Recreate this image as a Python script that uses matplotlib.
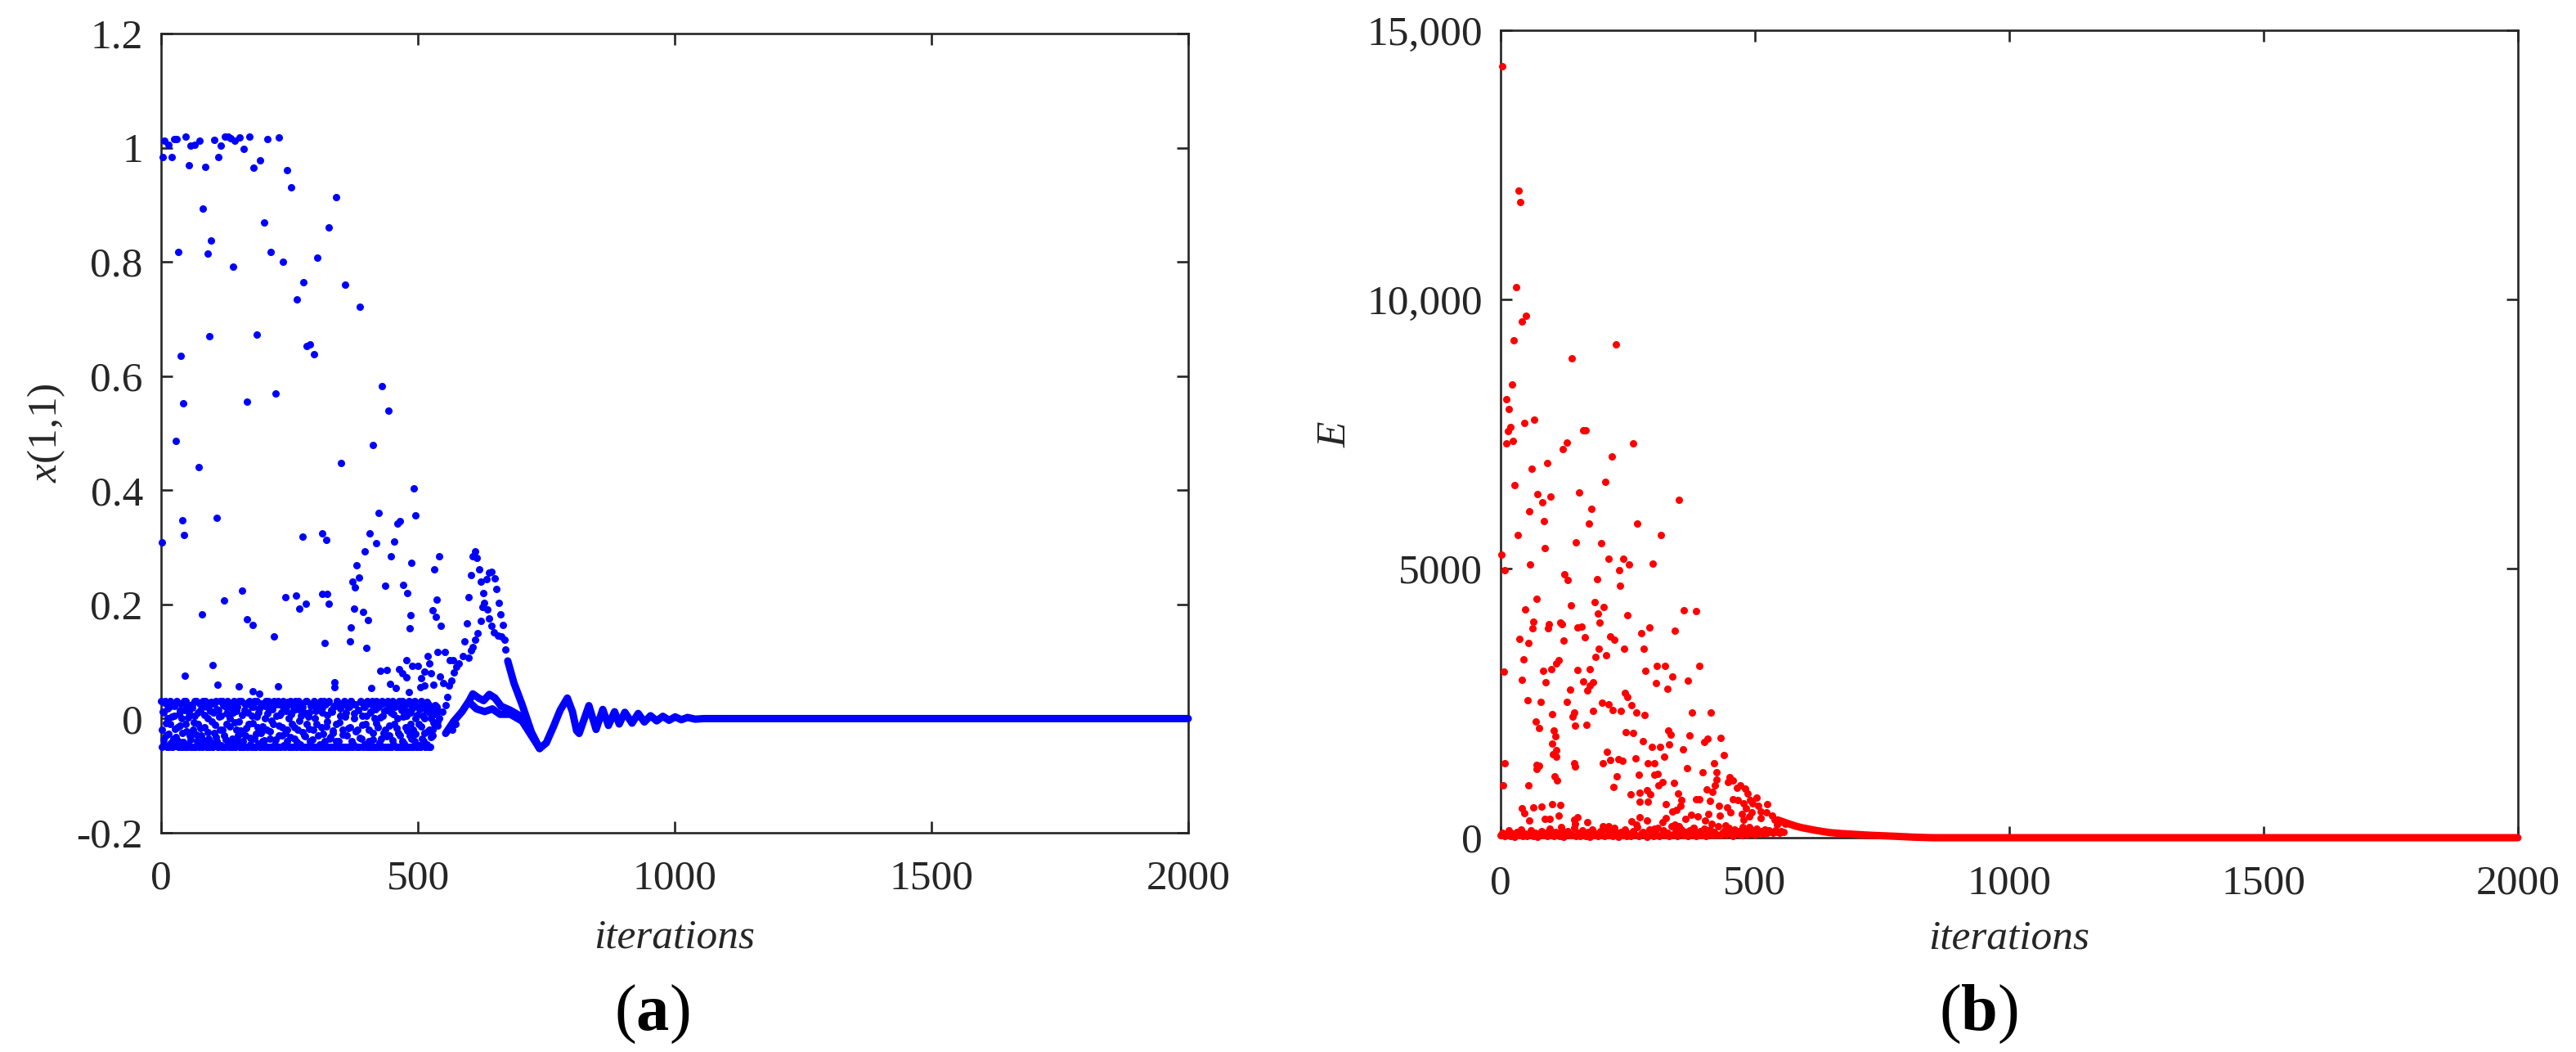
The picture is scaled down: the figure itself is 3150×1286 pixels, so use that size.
import numpy as np
import matplotlib
matplotlib.use("Agg")
import matplotlib.pyplot as plt

plt.rcParams['font.family'] = ['Liberation Serif', 'DejaVu Serif']
plt.rcParams['mathtext.fontset'] = 'custom'
plt.rcParams['mathtext.rm'] = 'Liberation Serif'
plt.rcParams['mathtext.it'] = 'Liberation Serif:italic'
plt.rcParams['mathtext.bf'] = 'Liberation Serif:bold'

# ---------------- panel (a): x(1,1) ----------------
a_out_x = [7, 15, 3, 21, 26, 31, 48, 54, 58, 66, 75, 82, 86, 97, 104, 111, 117, 124, 130, 136,
           144, 153, 161, 172, 180, 193, 201, 207, 213, 229, 237, 245, 253, 265, 277, 283, 290,
           298, 304, 327, 340, 358, 387, 412, 430, 442, 34, 91, 140, 94, 186, 39, 43, 167, 223, 29]
a_out_y = [1.013, 1.005, 0.984, 0.983, 1.015, 1.015, 1.019, 0.970, 1.003, 1.005, 1.013, 0.894,
           0.967, 0.837, 1.014, 0.983, 1.003, 1.020, 1.020, 1.017, 1.013, 1.018, 0.998, 1.020,
           0.965, 0.978, 0.869, 1.015, 0.817, 1.018, 0.800, 0.961, 0.931, 0.735, 0.764, 0.653,
           0.655, 0.638, 0.808, 0.861, 0.913, 0.760, 0.721, 0.479, 0.583, 0.540, 0.817, 0.814,
           0.792, 0.670, 0.672, 0.636, 0.553, 0.555, 0.570, 0.487]

a_mid_x = [73, 350, 492, 423, 496, 41, 108, 45, 2, 276, 314, 321, 406, 418, 460, 465, 454, 396,
           447, 541, 488, 381, 532, 385, 373, 377, 436, 472, 480, 158, 122, 242, 262, 269, 282,
           313, 323, 326, 376, 393, 403, 537, 528, 535, 545, 486, 484, 79, 167, 178, 220, 369,
           368, 319, 399, 101, 46, 110, 151, 227, 178, 191, 337, 337, 410, 446, 427, 440, 463,
           470, 478, 477, 489, 500, 519, 523, 513, 526, 506, 543, 539, 553, 562, 569, 483, 457,
           513, 530, 505]
a_mid_y = [0.441, 0.447, 0.403, 0.360, 0.356, 0.348, 0.352, 0.322, 0.309, 0.319, 0.324, 0.313,
           0.324, 0.307, 0.342, 0.346, 0.310, 0.293, 0.284, 0.284, 0.273, 0.268, 0.261, 0.247,
           0.240, 0.230, 0.233, 0.234, 0.220, 0.224, 0.207, 0.212, 0.215, 0.192, 0.201, 0.218,
           0.218, 0.201, 0.193, 0.187, 0.173, 0.208, 0.190, 0.179, 0.162, 0.181, 0.158, 0.183,
           0.174, 0.164, 0.144, 0.160, 0.136, 0.133, 0.124, 0.094, 0.075, 0.060, 0.057, 0.056,
           0.048, 0.044, 0.063, 0.055, 0.053, 0.061, 0.084, 0.085, 0.087, 0.079, 0.072, 0.102,
           0.092, 0.092, 0.110, 0.097, 0.082, 0.080, 0.071, 0.074, 0.116, 0.116, 0.103, 0.102,
           0.047, 0.053, 0.058, 0.059, 0.055]

a_peak_x = [588, 599, 595, 591, 603, 606, 612, 615, 620, 623, 627, 629, 625, 635, 622, 617, 612,
            607, 604, 599, 639, 633, 639, 644, 650, 653, 657, 661, 666, 643, 648, 656, 663, 668,
            671, 538, 541, 548, 554, 557, 560, 565, 570, 575, 580, 549, 567, 573]
a_peak_y = [0.110, 0.212, 0.167, 0.136, 0.252, 0.284, 0.293, 0.281, 0.261, 0.240, 0.220, 0.203,
            0.196, 0.191, 0.171, 0.149, 0.138, 0.126, 0.119, 0.106, 0.176, 0.244, 0.256, 0.257,
            0.246, 0.227, 0.203, 0.182, 0.164, 0.162, 0.151, 0.146, 0.144, 0.138, 0.121, -0.012,
            0.000, 0.012, 0.024, 0.038, 0.058, 0.067, 0.081, 0.091, 0.096, 0.062, -0.019, -0.009]

# dense band between -0.05 and 0.03: even iterations 0..538
a_band_even_y = [
    0.03, -0.02, 0.01, -0.045, 0.03, -0.03, 0.0, -0.05, 0.02, -0.01,
    -0.05, 0.025, -0.035, 0.005, -0.048, 0.03, -0.015, -0.04, 0.015, -0.05,
    0.0, -0.025, 0.03, -0.05, -0.01, 0.02, -0.045, 0.01, -0.03, -0.05,
    0.025, -0.02, -0.05, 0.005, 0.03, -0.04, -0.01, -0.05, 0.015, -0.03,
    -0.05, 0.02, -0.015, 0.03, -0.045, 0.0, -0.035, -0.05, 0.025, -0.005,
    -0.05, 0.01, -0.025, 0.03, -0.04, -0.05, 0.015, -0.02, 0.005, -0.05,
    0.03, -0.03, -0.05, 0.02, -0.01, -0.045, 0.025, 0.0, -0.05, -0.035,
    0.01, 0.03, -0.05, -0.02, 0.02, -0.04, -0.005, -0.05, 0.03, -0.025,
    -0.05, 0.015, -0.03, 0.025, -0.05, -0.01, 0.03, -0.045, 0.005, -0.05,
    0.02, -0.035, -0.05, 0.03, -0.015, 0.01, -0.05, -0.025, 0.025, -0.04,
    -0.05, 0.0, 0.03, -0.02, -0.05, 0.015, -0.035, 0.02, -0.05, -0.01,
    0.03, -0.045, 0.005, -0.05, 0.025, -0.03, -0.05, 0.01, -0.015, 0.03,
    -0.05, -0.025, 0.02, -0.04, 0.0, -0.05, 0.03, -0.01, -0.05, 0.015,
    -0.035, 0.025, -0.05, -0.02, 0.03, -0.045, 0.005, -0.05, 0.02, -0.03,
    -0.05, 0.03, -0.01, -0.05, 0.01, -0.04, 0.025, -0.05, -0.02, 0.03,
    0.0, -0.05, 0.02, -0.03, -0.05, 0.03, -0.015, 0.01, -0.05, -0.04,
    0.025, -0.05, -0.005, 0.03, -0.035, -0.05, 0.015, -0.025, 0.02, -0.05,
    -0.01, 0.03, -0.05, -0.04, 0.005, 0.025, -0.05, -0.02, 0.03, -0.05,
    0.01, -0.03, -0.05, 0.02, -0.015, 0.03, -0.05, -0.045, 0.0, 0.025,
    -0.05, -0.02, 0.015, -0.05, 0.03, -0.035, 0.005, -0.05, 0.02, -0.01,
    -0.05, 0.03, -0.04, -0.05, 0.01, 0.025, -0.025, -0.05, 0.0, 0.03,
    -0.05, -0.015, 0.02, -0.05, -0.035, 0.03, 0.005, -0.05, -0.02, 0.015,
    -0.05, 0.025, -0.03, -0.05, 0.01, 0.03, -0.045, -0.01, 0.02, -0.05,
    0.0, -0.025, 0.03, -0.05, 0.015, -0.04, -0.05, 0.025, -0.015, 0.005,
    -0.05, 0.03, -0.03, 0.01, -0.05, -0.02, 0.025, -0.04, 0.0, -0.05,
    0.02, -0.01, -0.05, 0.03, -0.035, 0.005, -0.025, -0.05, 0.015, -0.045,
    0.025, -0.02, -0.05, 0.0, -0.03, 0.02, -0.01, 0.015, 0.01, -0.005]
# odd iterations 1..539
a_band_odd_y = [
    -0.049, 0.012, -0.037, 0.028, -0.008, -0.05, 0.018, -0.027, 0.031, -0.043,
    0.004, -0.05, 0.022, -0.018, -0.033, 0.029, -0.05, 0.008, -0.012, 0.026,
    -0.05, -0.041, 0.015, 0.031, -0.022, -0.05, 0.002, 0.024, -0.037, -0.05,
    0.019, -0.007, 0.03, -0.05, -0.028, 0.011, -0.046, 0.027, -0.016, -0.05,
    0.031, -0.038, 0.006, -0.05, 0.021, -0.024, -0.05, 0.013, 0.029, -0.042,
    -0.05, 0.027, -0.011, -0.032, 0.017, -0.05, 0.003, 0.03, -0.047, -0.019,
    0.023, -0.05, -0.036, 0.009, 0.031, -0.05, -0.014, 0.019, -0.043, -0.05,
    0.028, -0.006, -0.05, 0.014, -0.029, 0.031, -0.05, -0.021, 0.007, -0.039,
    -0.05, 0.026, -0.017, -0.05, 0.011, 0.029, -0.034, -0.05, 0.021, -0.008,
    0.031, -0.05, -0.027, 0.003, -0.044, 0.018, -0.05, 0.027, -0.013, -0.05,
    -0.038, 0.022, -0.05, 0.009, 0.03, -0.023, -0.05, -0.004, 0.016, -0.05,
    0.025, -0.036, -0.05, 0.031, -0.012, 0.006, -0.05, -0.029, 0.02, -0.046,
    -0.05, 0.013, -0.019, 0.029, -0.05, -0.033, 0.008, -0.05, 0.024, -0.015,
    0.03, -0.05, -0.041, 0.017, -0.003, -0.05, 0.027, -0.024, -0.05, 0.011,
    -0.031, 0.031, -0.05, 0.004, -0.018, 0.022, -0.05, -0.037, 0.028, -0.05,
    0.014, -0.009, -0.05, 0.026, -0.045, -0.05, 0.019, -0.026, 0.031, -0.05,
    -0.014, 0.007, -0.05, 0.029, -0.032, -0.05, 0.012, -0.021, -0.05, 0.024,
    -0.04, 0.03, -0.05, -0.007, 0.018, -0.05, -0.028, 0.027, -0.05, 0.003,
    -0.05, 0.021, -0.016, -0.05, 0.031, -0.039, -0.05, 0.009, 0.025, -0.023,
    -0.05, 0.015, -0.05, -0.034, 0.029, -0.011, -0.05, 0.02, -0.045, 0.005,
    0.028, -0.05, -0.02, 0.012, -0.05, 0.031, -0.036, -0.05, 0.017, -0.008,
    -0.05, 0.024, -0.042, 0.002, -0.05, 0.027, -0.025, 0.013, -0.05, -0.031,
    0.03, -0.05, -0.012, 0.019, -0.05, -0.038, 0.008, 0.026, -0.05, -0.017,
    -0.05, 0.022, -0.03, -0.05, 0.03, 0.004, -0.044, -0.05, 0.014, -0.021,
    0.027, -0.05, -0.009, -0.035, 0.018, -0.05, 0.031, -0.026, -0.05, 0.007,
    -0.047, 0.016, -0.05, -0.013, 0.025, -0.039, 0.001, -0.05, 0.029, -0.022,
    -0.05, 0.011, -0.033, 0.019, -0.02, -0.006, 0.024, 0.008, 0.02, 0.015]
a_band_even_x = np.arange(0, 2 * len(a_band_even_y), 2)
a_band_odd_x = np.arange(1, 2 * len(a_band_odd_y), 2)

# converging trajectories (dense runs of points drawn as continuous strokes)
a_lineA_x = [675, 687, 703, 721, 737, 750, 764, 777, 791, 801, 809, 814, 833, 847, 860, 871, 883,
             892, 903, 917, 929, 941, 953, 965, 977, 989, 1001, 1013, 1025, 1040, 1057, 2000]
a_lineA_y = [0.101, 0.0624, 0.0242, -0.0236, -0.0523, -0.0427, -0.014, 0.0146, 0.036, 0.012,
             -0.021, -0.026, 0.0227, -0.019, 0.016, -0.012, 0.012, -0.0095, 0.011, -0.008, 0.009,
             -0.006, 0.005, -0.004, 0.004, -0.003, 0.003, -0.002, 0.002, -0.001, 0.0, 0.0]
a_lineB_x = [554, 570, 586, 600, 607, 618, 628, 639, 650, 662, 680, 703, 720, 737]
a_lineB_y = [-0.026, -0.0045, 0.0123, 0.0314, 0.0433, 0.0362, 0.0314, 0.0424, 0.0362, 0.0218,
             0.0146, 0.0027, -0.0236, -0.0523]
a_lineC_x = [600, 614, 630, 645, 660, 680, 703, 737]
a_lineC_y = [0.029, 0.017, 0.0123, 0.017, 0.0075, 0.0075, -0.0045, -0.0523]

# ---------------- panel (b): E ----------------
b_pts = [
    (3.8, 14336), (35, 12017), (38.6, 11804), (31, 10223), (50, 9696), (42, 9585), (26, 9240),
    (227, 9159), (140, 8901), (22.5, 8419), (10.7, 8141), (16.6, 7963), (66, 7761), (46.6, 7710),
    (18.8, 7634), (15, 7558), (163, 7568), (167, 7568), (24, 7366), (12, 7330), (131, 7340),
    (261, 7330), (122, 7219), (219, 7077), (92, 6960), (61, 6859), (28, 6555), (205, 6606),
    (73, 6378), (98, 6342), (81.5, 6236), (155, 6413), (351, 6277), (179, 6114), (56, 6059),
    (86, 5877), (173, 5831), (269, 5831), (33, 5623), (315, 5618), (148, 5491), (197, 5471),
    (87, 5375), (1.6, 5253), (8.6, 4965), (58, 5076), (213, 5177), (241, 5187), (253, 5076),
    (299, 5086), (233, 4970), (235, 4686), (126, 4894), (132, 4782), (189, 4802), (71, 4433),
    (49, 4240), (138, 4321), (185, 4382), (203, 4291), (191, 4164), (249, 4139), (360, 4220),
    (384, 4205), (195, 4002), (65, 4012), (63, 3886), (95, 3962), (94, 3896), (118, 3997),
    (120, 3970), (151, 3910), (159, 3926), (293, 3906), (342, 3845), (277, 3794), (37, 3698),
    (55, 3622), (124, 3658), (165, 3723), (216, 3734), (224, 3673), (243, 3511), (193, 3515),
    (281, 3515), (45, 3313), (187, 3354), (207, 3384), (110, 3242), (114, 3293), (7, 3085),
    (84, 3096), (100, 3135), (151, 3120), (175, 3126), (307, 3187), (323, 3187), (391, 3187),
    (285, 3100), (41, 2938), (89, 2883), (162, 2907), (175, 2831), (182, 2892), (171, 2736),
    (306, 2868), (337, 2994), (328, 2761), (368, 2913), (136, 2746), (244, 2695), (250, 2614),
    (257, 2467), (53, 2553), (79, 2518), (130, 2528), (199, 2508), (212, 2477), (221, 2375),
    (237, 2350), (181, 2360), (267, 2325), (283, 2275), (377, 2325), (414, 2325), (101, 2290),
    (144, 2330), (142, 2254), (69, 2163), (76, 2032), (146, 2082), (169, 2097), (105, 1986),
    (107, 1884), (246, 1960), (260, 1940), (330, 1996), (334, 1910), (371, 1895), (406, 1844),
    (400, 1778), (432, 1854), (279, 1789), (297, 1692), (313, 1692), (332, 1737), (102, 1743),
    (109, 1631), (103, 1555), (109, 1505), (209, 1591), (358, 1641), (439, 1540), (322, 1500),
    (265, 1474), (7.5, 1378), (70, 1353), (76, 1340), (71, 1277), (145, 1378), (146, 1327),
    (201, 1388), (216, 1439), (232, 1454), (240, 1424), (290, 1378), (303, 1378), (419, 1388),
    (366, 1287), (397, 1221), (424, 1211), (271, 1175), (302, 1170), (309, 1185), (228, 1135),
    (106, 1145), (111, 1059), (5, 973), (54, 968), (319, 1033), (311, 973), (341, 1013),
    (424, 1074), (422, 973), (450, 1125), (447, 1033), (456, 1059), (222, 937), (405, 897),
    (416, 846), (287, 886), (274, 831), (294, 810), (255, 801), (349, 825), (356, 694),
    (385, 710), (390, 714), (411, 679), (273, 673), (289, 673), (325, 618), (353, 593),
    (346, 521), (338, 491), (101, 628), (117, 608), (80.5, 578), (64, 558), (42, 542), (46, 461),
    (114, 415), (87, 354), (96, 354), (56, 319), (145, 330), (151, 380), (147, 263), (170, 289),
    (257, 299), (273, 380), (288, 315), (267, 239), (318, 289), (325, 365), (343, 239),
    (364, 354), (374, 430), (387, 391), (409, 441), (402, 315), (415, 263), (442, 223),
    (430, 593), (445, 558), (431, 415), (452, 466), (119, 198), (201, 213), (213, 213),
    (224, 187), (303, 163), (351, 213), (379, 187), (489, 202),
    (464, 922), (471, 973), (480, 907), (485, 821), (456, 719), (466, 694), (477, 643),
    (482, 542), (490, 694), (496, 643), (504, 745), (506, 593), (512, 491), (524, 628),
    (522, 466), (533, 415), (539, 339), (549, 289), (560, 263), (544, 239), (512, 365),
    (493, 466), (488, 391), (474, 441), (477, 339)]
b_x = [p[0] for p in b_pts]
b_y = [p[1] for p in b_pts]

# low-energy floor (iterations 0..556, every 4th)
b_floor_y = [
    40, 90, 25, 60, 130, 30, 75, 20, 110, 45,
    160, 35, 80, 25, 55, 140, 30, 95, 20, 65,
    120, 40, 85, 30, 170, 50, 25, 100, 60, 35,
    145, 20, 75, 115, 40, 55, 190, 30, 85, 25,
    130, 60, 35, 105, 20, 150, 45, 80, 30, 120,
    55, 25, 175, 40, 90, 30, 135, 60, 20, 100,
    45, 160, 35, 80, 25, 125, 55, 200, 30, 70,
    110, 40, 20, 150, 65, 35, 95, 180, 25, 60,
    130, 45, 85, 30, 210, 55, 115, 35, 75, 160,
    40, 100, 25, 140, 65, 190, 30, 90, 120, 50,
    170, 35, 80, 150, 45, 110, 60, 220, 40, 95,
    135, 55, 180, 70, 30, 160, 85, 120, 45, 200,
    100, 60, 150, 80, 130, 55, 175, 95, 120, 70,
    160, 90, 140, 110, 85, 130, 105, 95, 120, 100]
b_floor_x = np.arange(0, 4 * len(b_floor_y), 4)

b_decay_x = [545, 565, 581, 592, 619, 646, 672, 726, 780, 812, 850, 2000]
b_decay_y = [330, 263, 213, 187, 137, 96, 76, 46, 25, 10, 0, 0]

x_ticks = [0, 500, 1000, 1500, 2000]
a_yticks = [-0.2, 0, 0.2, 0.4, 0.6, 0.8, 1.0, 1.2]
a_yticklabels = ['-0.2', '0', '0.2', '0.4', '0.6', '0.8', '1', '1.2']
b_yticks = [0, 5000, 10000, 15000]
b_yticklabels = ['0', '5000', '10,000', '15,000']

BLUE = '#0000FF'
RED = '#FF0000'
DARK = '#262626'
MS = 6.5
LW = 6.5
TICKFS = 37

fig = plt.figure(figsize=(31.5, 12.86), dpi=100)
axA = fig.add_axes([0.06254, 0.2084, 0.39873, 0.7597])
axB = fig.add_axes([0.58254, 0.2037, 0.3949, 0.7675])


def style(ax):
    for s in ax.spines.values():
        s.set_color(DARK)
        s.set_linewidth(1.9)
    ax.tick_params(direction='in', length=10, width=1.9, color=DARK,
                   top=True, right=True, labelsize=TICKFS, labelcolor=DARK)
    ax.tick_params(axis='x', pad=24)
    ax.tick_params(axis='y', pad=16)
    ax.set_xlim(0, 2000)
    ax.set_xticks(x_ticks)
    ax.set_xticklabels([str(t) for t in x_ticks])


mk = dict(linestyle='none', marker='o', ms=MS, mew=0, clip_on=False, zorder=3)
axA.plot(a_band_even_x, a_band_even_y, color=BLUE, **mk)
axA.plot(a_band_odd_x, a_band_odd_y, color=BLUE, **mk)
axA.plot(a_out_x, a_out_y, color=BLUE, **mk)
axA.plot(a_mid_x, a_mid_y, color=BLUE, **mk)
axA.plot(a_peak_x, a_peak_y, color=BLUE, **mk)
for lx, ly in [(a_lineA_x, a_lineA_y), (a_lineB_x, a_lineB_y), (a_lineC_x, a_lineC_y)]:
    axA.plot(lx, ly, color=BLUE, lw=LW, solid_capstyle='round', solid_joinstyle='round',
             clip_on=False, zorder=3)
style(axA)
axA.set_ylim(-0.2, 1.2)
axA.set_yticks(a_yticks)
axA.set_yticklabels(a_yticklabels)
axA.set_ylabel(r'$x$(1,1)', fontsize=TICKFS, color=DARK)
axA.yaxis.set_label_coords(-0.0916, 0.5)
axA.set_xlabel('iterations', fontsize=TICKFS, style='italic', color=DARK)
axA.xaxis.set_label_coords(0.5, -0.1443)
axA.xaxis.label.set_va('baseline')

axB.plot(b_floor_x, b_floor_y, color=RED, **mk)
axB.plot(b_x, b_y, color=RED, **mk)
axB.plot(b_decay_x, b_decay_y, color=RED, lw=LW, solid_capstyle='round', clip_on=False, zorder=4)
style(axB)
axB.set_ylim(0, 15000)
axB.set_yticks(b_yticks)
axB.set_yticklabels(b_yticklabels)
axB.set_ylabel(r'$E$', fontsize=TICKFS, color=DARK)
axB.yaxis.set_label_coords(-0.144, 0.5)
axB.set_xlabel('iterations', fontsize=TICKFS, style='italic', color=DARK)
axB.xaxis.set_label_coords(0.5, -0.1368)
axB.xaxis.label.set_va('baseline')

fig.text(0.253, 0.036, r'($\mathbf{a}$)', ha='center', va='center', fontsize=58, color='black')
fig.text(0.768, 0.036, r'($\mathbf{b}$)', ha='center', va='center', fontsize=58, color='black')

fig.savefig('out.png', dpi=100, facecolor='white')
